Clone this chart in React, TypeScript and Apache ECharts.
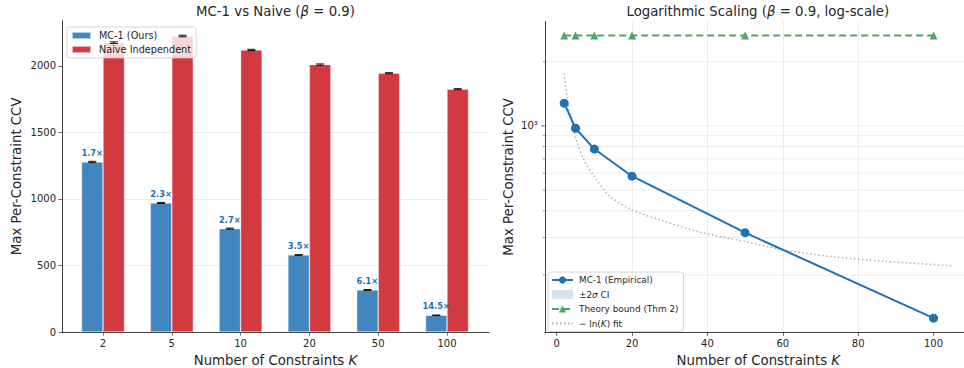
import React, { useEffect, useRef } from 'react';
import * as echarts from 'echarts';

// ---------- Data ----------
const categories = ['2', '5', '10', '20', '50', '100'];
const mcValues = [1278, 970, 777, 579, 316, 125.5];
const mcErr = [5, 4, 4, 3, 3, 2];
const naiveValues = [2175, 2225, 2120, 2010, 1945, 1825];
const naiveErr = [6, 6, 5, 5, 4, 4];
const ratioLabels = ['1.7×', '2.3×', '2.7×', '3.5×', '6.1×', '14.5×'];
const leftYTicks = [0, 500, 1000, 1500, 2000];

const kValues = [2, 5, 10, 20, 50, 100];
const empValues = [1278, 975, 779, 581, 316, 125.5];
const ciLow = [1266, 966, 772, 576, 313, 124.3];
const ciHigh = [1290, 984, 786, 586, 319, 126.7];
const theoryValues = [2650, 2650, 2650, 2650, 2650, 2650];
const fitK = [2, 2.6, 3.7, 5.2, 7.2, 10, 14, 20, 28, 38, 50, 60, 73, 87, 105];
const fitValues = [1765, 1422, 1105, 860, 693, 580, 470, 404, 360, 318, 287, 263, 244, 232, 221];
const rightXTicks = [0, 20, 40, 60, 80, 100];
const rightYMajor = [1000];
const rightYMinor = [200, 300, 400, 500, 600, 700, 800, 900, 2000];

// ---------- Styles ----------
const FONT = 'DejaVu Sans';
const TXT = '#262626';
const SPINE = '#404040';
const GRIDC = '#e6e6e6';
const BLUE_BAR = '#4286c0';
const RED_BAR = '#d33a3f';
const BLUE = '#2171b5';
const GREEN = '#4fa466';
const BAR_W = 21.5;
const R_XMIN = -3.15;
const R_XMAX = 110.15;

export default function App() {
  const ref = useRef<HTMLDivElement>(null);
  useEffect(() => {
    document.body.style.margin = '0';
    const chart = echarts.init(ref.current as HTMLDivElement, null, { renderer: 'svg' });

    const errSeries = (name: string, vals: number[], errs: number[], offset: number) => ({
      type: 'custom',
      name,
      xAxisIndex: 1,
      yAxisIndex: 1,
      z: 5,
      silent: true,
      data: vals.map((v, i) => [i, v, errs[i]]),
      renderItem: (params: any, api: any) => {
        const i = api.value(0);
        const v = api.value(1);
        const e = api.value(2);
        const hi = api.coord([i, v + e]);
        const lo = api.coord([i, v - e]);
        const x = hi[0] + offset;
        const st = { stroke: '#111', lineWidth: 1 };
        return {
          type: 'group',
          children: [
            { type: 'line', shape: { x1: x, y1: hi[1], x2: x, y2: lo[1] }, style: st },
            { type: 'line', shape: { x1: x - 4, y1: hi[1], x2: x + 4, y2: hi[1] }, style: st },
            { type: 'line', shape: { x1: x - 4, y1: lo[1], x2: x + 4, y2: lo[1] }, style: st },
          ],
        };
      },
    });

    const nameStyle = {
      fontSize: 13.3,
      fontFamily: FONT,
      color: TXT,
      rich: { k: { fontStyle: 'italic', fontSize: 13.3, fontFamily: FONT, color: TXT } },
    };

    const option: any = {
      animation: false,
      textStyle: { fontFamily: FONT },
      graphic: [
        {
          type: 'text',
          x: 275.5,
          y: 11,
          style: {
            text: 'MC-1 vs Naive ({i|β} = 0.9)',
            font: `13.3px "${FONT}"`,
            fill: TXT,
            align: 'center',
            verticalAlign: 'middle',
            rich: { i: { fontStyle: 'italic', fontSize: 13.3, fontFamily: FONT, fill: TXT } },
          },
        },
        {
          type: 'text',
          x: 757.8,
          y: 11,
          style: {
            text: 'Logarithmic Scaling ({i|β} = 0.9, log-scale)',
            font: `13.3px "${FONT}"`,
            fill: TXT,
            align: 'center',
            verticalAlign: 'middle',
            rich: { i: { fontStyle: 'italic', fontSize: 13.3, fontFamily: FONT, fill: TXT } },
          },
        },
      ],
      legend: [
        {
          left: 67,
          top: 27,
          orient: 'vertical',
          data: [
            { name: 'MC-1 (Ours)', icon: 'rect' },
            { name: 'Naive Independent', icon: 'rect' },
          ],
          itemWidth: 19,
          itemHeight: 7,
          itemGap: 3,
          padding: [3, 5, 3, 4],
          backgroundColor: 'rgba(255,255,255,0.8)',
          borderColor: '#cccccc',
          borderWidth: 0.8,
          borderRadius: 3,
          textStyle: { fontSize: 9.7, fontFamily: FONT, color: TXT, padding: [0, 0, 0, 3], lineHeight: 11 },
        },
        {
          left: 548,
          top: 272,
          orient: 'vertical',
          data: [
            { name: 'MC-1 (Empirical)' },
            { name: '±2σ CI', icon: 'rect', itemStyle: { color: 'rgba(33,113,181,0.2)' } },
            { name: 'Theory bound (Thm 2)' },
            { name: '∼ ln(K) fit', itemStyle: { opacity: 0 } },
          ],
          itemWidth: 21,
          itemHeight: 9,
          itemGap: 4.5,
          padding: [3, 5, 3, 3],
          backgroundColor: 'rgba(255,255,255,0.8)',
          borderColor: '#cccccc',
          borderWidth: 0.8,
          borderRadius: 3,
          formatter: (name: string) => {
            if (name === '±2σ CI') return '±2{i|σ} CI';
            if (name === '∼ ln(K) fit') return '∼ ln({i|K}) fit';
            return name;
          },
          textStyle: {
            fontSize: 8.9,
            fontFamily: FONT,
            color: TXT,
            padding: [0, 0, 0, 1],
            lineHeight: 10,
            rich: { i: { fontStyle: 'italic', fontSize: 8.9, fontFamily: FONT, color: TXT } },
          },
        },
      ],
      grid: [
        { left: 62, top: 20.7, width: 427, height: 311.3, outerBoundsMode: 'none', containLabel: false },
        { left: 68.6, top: 20.7, width: 412.8, height: 311.3, outerBoundsMode: 'none', containLabel: false },
        { left: 544.8, top: 21.5, width: 427, height: 310.8, outerBoundsMode: 'none', containLabel: false },
      ],
      xAxis: [
        {
          gridIndex: 0,
          type: 'value',
          min: 0,
          max: 1,
          axisLine: { show: true, lineStyle: { color: SPINE, width: 1 } },
          axisTick: { show: false },
          axisLabel: { show: false },
          splitLine: { show: false },
          name: 'Number of Constraints {k|K}',
          nameLocation: 'middle',
          nameGap: 22,
          nameTextStyle: nameStyle,
        },
        {
          gridIndex: 1,
          type: 'category',
          data: categories,
          axisLine: { show: false },
          axisTick: { show: true, alignWithLabel: true, length: 3.5, lineStyle: { color: SPINE, width: 0.8 } },
          axisLabel: { fontSize: 10, color: TXT, fontFamily: FONT, margin: 6 },
          splitLine: { show: false },
        },
        {
          gridIndex: 2,
          type: 'value',
          min: R_XMIN,
          max: R_XMAX,
          axisLine: { show: true, onZero: false, lineStyle: { color: SPINE, width: 1 } },
          axisTick: { show: true, length: 3.5, customValues: rightXTicks, lineStyle: { color: SPINE, width: 0.8 } },
          axisLabel: { fontSize: 10, color: TXT, fontFamily: FONT, margin: 6, customValues: rightXTicks },
          splitLine: { show: true, showMinLine: false, showMaxLine: false, lineStyle: { color: GRIDC, width: 0.8 } },
          name: 'Number of Constraints {k|K}',
          nameLocation: 'middle',
          nameGap: 22,
          nameTextStyle: nameStyle,
        },
      ],
      yAxis: [
        {
          gridIndex: 0,
          type: 'value',
          min: 0,
          max: 2340,
          axisLine: { show: true, lineStyle: { color: SPINE, width: 1 } },
          axisTick: { show: true, length: 3.5, customValues: leftYTicks, lineStyle: { color: SPINE, width: 0.8 } },
          axisLabel: {
            fontSize: 10,
            color: TXT,
            fontFamily: FONT,
            margin: 6,
            customValues: leftYTicks,
            formatter: (v: number) => String(v),
          },
          splitLine: { show: true, showMinLine: false, showMaxLine: false, lineStyle: { color: GRIDC, width: 0.8 } },
          name: 'Max Per-Constraint CCV',
          nameLocation: 'middle',
          nameGap: 39,
          nameTextStyle: { fontSize: 13.3, fontFamily: FONT, color: TXT },
        },
        {
          gridIndex: 1,
          type: 'value',
          min: 0,
          max: 2340,
          show: false,
        },
        {
          gridIndex: 2,
          type: 'log',
          min: 107.8,
          max: 3086,
          axisLine: { show: true, onZero: false, lineStyle: { color: SPINE, width: 1 } },
          axisTick: { show: false },
          axisLabel: {
            fontSize: 10,
            color: TXT,
            fontFamily: FONT,
            margin: 7,
            showMinLabel: false,
            showMaxLabel: false,
            formatter: (v: number) => (Math.abs(v - 1000) < 1 ? '10³' : ''),
          },
          splitLine: { show: false },
          name: 'Max Per-Constraint CCV',
          nameLocation: 'middle',
          nameGap: 30,
          nameTextStyle: { fontSize: 13.3, fontFamily: FONT, color: TXT },
        },
      ],
      series: [
        {
          type: 'bar',
          name: 'MC-1 (Ours)',
          xAxisIndex: 1,
          yAxisIndex: 1,
          data: mcValues,
          barWidth: BAR_W,
          barGap: '0%',
          itemStyle: { color: BLUE_BAR, borderColor: 'rgba(255,255,255,0.6)', borderWidth: 0.6 },
          label: {
            show: true,
            position: 'top',
            distance: 5,
            formatter: (p: any) => ratioLabels[p.dataIndex],
            fontSize: 8.3,
            fontWeight: 'bold',
            fontFamily: FONT,
            color: BLUE,
          },
        },
        {
          type: 'bar',
          name: 'Naive Independent',
          xAxisIndex: 1,
          yAxisIndex: 1,
          data: naiveValues,
          barWidth: BAR_W,
          barGap: '0%',
          itemStyle: { color: RED_BAR, borderColor: 'rgba(255,255,255,0.6)', borderWidth: 0.6 },
        },
        errSeries('mcErr', mcValues, mcErr, -BAR_W / 2),
        errSeries('naiveErr', naiveValues, naiveErr, BAR_W / 2),
        {
          type: 'custom',
          name: 'ygrid',
          xAxisIndex: 2,
          yAxisIndex: 2,
          z: 0,
          silent: true,
          data: [...rightYMinor.map((v) => [R_XMIN, v, 0]), ...rightYMajor.map((v) => [R_XMIN, v, 1])],
          encode: { x: 0, y: 1 },
          renderItem: (params: any, api: any) => {
            const v = api.value(1);
            const major = api.value(2) === 1;
            const a = api.coord([R_XMIN, v]);
            const b = api.coord([R_XMAX, v]);
            const len = major ? 3.5 : 2;
            return {
              type: 'group',
              children: [
                { type: 'line', shape: { x1: a[0], y1: a[1], x2: b[0], y2: b[1] }, style: { stroke: GRIDC, lineWidth: 0.8 } },
                { type: 'line', shape: { x1: a[0] - len, y1: a[1], x2: a[0], y2: a[1] }, style: { stroke: SPINE, lineWidth: major ? 0.8 : 0.6 } },
              ],
            };
          },
        },
        {
          type: 'custom',
          name: '±2σ CI',
          xAxisIndex: 2,
          yAxisIndex: 2,
          z: 1,
          silent: true,
          data: [[kValues[0], ciLow[0]]],
          encode: { x: 0, y: 1 },
          itemStyle: { color: 'rgba(33,113,181,0.2)' },
          renderItem: (params: any, api: any) => {
            const up = kValues.map((k, i) => api.coord([k, ciHigh[i]]));
            const dn = kValues.map((k, i) => api.coord([k, ciLow[i]])).reverse();
            return {
              type: 'polygon',
              shape: { points: [...up, ...dn] },
              style: { fill: 'rgba(33,113,181,0.2)' },
            };
          },
        },
        {
          type: 'line',
          name: '∼ ln(K) fit',
          xAxisIndex: 2,
          yAxisIndex: 2,
          z: 2,
          data: fitK.map((k, i) => [k, fitValues[i]]),
          smooth: 0.3,
          symbol: 'circle',
          showSymbol: false,
          symbolSize: 0,
          itemStyle: { color: '#b0b0b0' },
          lineStyle: { color: '#b0b0b0', width: 1.5, type: [1.5, 2.5] },
        },
        {
          type: 'line',
          name: 'Theory bound (Thm 2)',
          xAxisIndex: 2,
          yAxisIndex: 2,
          z: 3,
          data: kValues.map((k, i) => [k, theoryValues[i]]),
          symbol: 'triangle',
          symbolSize: 8,
          itemStyle: { color: GREEN },
          lineStyle: { color: GREEN, width: 2, type: [7, 4] },
        },
        {
          type: 'line',
          name: 'MC-1 (Empirical)',
          xAxisIndex: 2,
          yAxisIndex: 2,
          z: 4,
          data: kValues.map((k, i) => [k, empValues[i]]),
          symbol: 'circle',
          symbolSize: 9,
          itemStyle: { color: BLUE },
          lineStyle: { color: BLUE, width: 2 },
        },
      ],
    };
    chart.setOption(option);
    return () => chart.dispose();
  }, []);
  return <div ref={ref} style={{ width: 964, height: 368 }} />;
}
